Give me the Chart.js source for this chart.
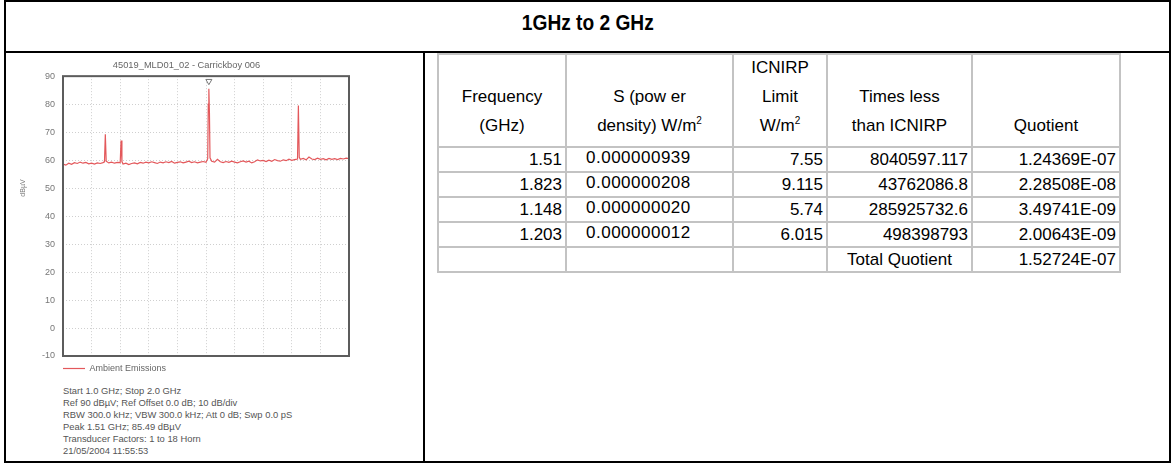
<!DOCTYPE html>
<html>
<head>
<meta charset="utf-8">
<script src="https://cdn.jsdelivr.net/npm/chart.js@4.4.1/dist/chart.umd.min.js"></script>
<style>
html,body{margin:0;padding:0;background:#fff;}
body{width:1171px;height:463px;position:relative;overflow:hidden;font-family:"Liberation Sans",Arial,sans-serif;color:#000;}
#frame{position:absolute;left:4px;top:0;width:1167px;height:463px;box-sizing:border-box;border:2px solid #000;}
#titleRow{position:absolute;left:0;top:0;width:1163px;height:49px;border-bottom:2px solid #000;text-align:center;}
#titleRow span{display:inline-block;margin-top:8px;font-weight:bold;font-size:22px;line-height:26px;transform:scaleX(0.87);transform-origin:center;}
#divider{position:absolute;left:417px;top:51px;width:2px;height:408px;background:#000;}
#chartBox{position:absolute;left:0;top:52px;width:361px;height:329px;}
#yTitle{position:absolute;left:2px;top:181px;width:30px;height:10px;font-size:7px;line-height:10px;color:#777;text-align:center;transform:rotate(-90deg);}
#footer{position:absolute;left:57px;top:383px;font-size:9.4px;line-height:12px;color:#555;white-space:nowrap;}
#tbl{position:absolute;left:431px;top:51px;display:grid;grid-template-columns:126px 165px 92px 143px 146px;grid-template-rows:91px 23px 23px 23px 23px 23px;gap:2px;padding:2px;background:#c3c3c3;font-size:17px;}
#tbl div{background:#fff;box-sizing:border-box;white-space:nowrap;}
.h{display:flex;flex-direction:column;justify-content:flex-end;align-items:center;line-height:29px;padding-bottom:6px;text-align:center;}
.n{text-align:right;padding-right:3px;line-height:23px;}
.s{text-align:left;padding-left:19px;line-height:19px;letter-spacing:0.5px;}
.c{text-align:center;line-height:23px;}
sup{font-size:10px;line-height:0;vertical-align:7px;}
</style>
</head>
<body>
<div id="frame">
  <div id="titleRow"><span>1GHz to 2 GHz</span></div>
  <div id="divider"></div>
  <div id="chartBox"><canvas id="c" width="361" height="329"></canvas></div>
  <div id="yTitle">dBµV</div>
  <div id="footer">
    Start 1.0 GHz; Stop 2.0 GHz<br>
    Ref 90 dBµV; Ref Offset 0.0 dB; 10 dB/div<br>
    RBW 300.0 kHz; VBW 300.0 kHz; Att 0 dB; Swp 0.0 pS<br>
    Peak 1.51 GHz; 85.49 dBµV<br>
    Transducer Factors: 1 to 18 Horn<br>
    21/05/2004 11:55:53
  </div>
  <div id="tbl"></div>
</div>
<script>
// ---- Spectrum trace ----
const traceFreqGHz = [
  1.00,1.01,1.02,1.03,1.04,1.05,1.06,1.07,1.08,1.09,1.10,1.11,1.12,1.13,1.14,1.145,1.148,1.151,
  1.16,1.17,1.18,1.19,1.20,1.203,1.206,1.21,1.22,1.23,1.24,1.25,1.26,1.27,1.28,1.29,1.30,
  1.31,1.32,1.33,1.34,1.35,1.36,1.37,1.38,1.39,1.40,1.41,1.42,1.43,1.44,1.45,1.46,1.47,1.48,1.49,1.50,
  1.506,1.508,1.510,1.512,1.514,1.52,1.53,1.54,1.55,1.56,1.57,1.58,1.59,1.60,1.61,1.62,1.63,1.64,1.65,
  1.66,1.67,1.68,1.69,1.70,1.71,1.72,1.73,1.74,1.75,1.76,1.77,1.78,1.79,1.80,1.81,1.82,1.823,1.826,
  1.83,1.84,1.85,1.86,1.87,1.88,1.89,1.90,1.91,1.92,1.93,1.94,1.95,1.96,1.97,1.98,1.99,2.00
];
const traceLevelDbuv = [
  58.6,58.2,58.9,58.5,59.1,58.8,59.3,58.9,59.2,58.7,58.9,58.6,59.0,58.8,59.1,59.4,69.2,59.6,
  59.0,59.3,58.9,59.2,59.1,67.0,59.5,58.6,58.9,58.4,58.8,59.0,58.7,59.2,58.9,59.3,59.0,
  59.4,59.1,58.8,59.3,59.0,59.4,59.1,59.5,58.9,59.2,59.4,59.0,59.3,59.6,59.1,59.4,59.0,59.3,59.5,59.2,
  60.5,80.0,85.5,77.0,60.8,59.6,59.3,60.3,59.4,59.1,59.5,59.2,59.6,59.3,59.0,59.4,59.7,59.3,59.6,
  59.0,59.4,60.1,59.7,59.9,59.5,60.0,59.6,60.2,59.8,59.6,60.1,59.8,60.3,59.9,60.2,60.4,79.5,61.0,
  60.3,60.6,60.1,61.1,60.4,60.2,60.7,60.3,60.5,60.1,60.6,60.3,60.5,60.2,60.6,60.4,60.7,60.5
];
const markerFreqGHz = [1.51];
const markerLevelDbuv = [88.2];
const seriesName = 'Ambient Emissions';
const chartTitle = '45019_MLD01_02 - Carrickboy 006';
const yMin = -10, yMax = 90, yStep = 10;
const xMin = 1.0, xMax = 2.0, xStep = 0.1;

// ---- Table ----
const tblFrequency = ['1.51','1.823','1.148','1.203'];
const tblPowerDensity = ['0.000000939','0.000000208','0.000000020','0.000000012'];
const tblLimit = ['7.55','9.115','5.74','6.015'];
const tblTimesLess = ['8040597.117','43762086.8','285925732.6','498398793'];
const tblQuotient = ['1.24369E-07','2.28508E-08','3.49741E-09','2.00643E-09'];
const totalLabel = 'Total Quotient';
const totalQuotient = '1.52724E-07';

// build table
const tbl = document.getElementById('tbl');
const headers = [
  'Frequency<br>(GHz)',
  'S (pow er<br>density) W/m<sup>2</sup>',
  'ICNIRP<br>Limit<br>W/m<sup>2</sup>',
  'Times less<br>than ICNIRP',
  'Quotient'
];
function cell(html, cls){const d=document.createElement('div');d.className=cls;d.innerHTML=html;tbl.appendChild(d);}
headers.forEach(h=>{
  const parts=h.split('<br>');
  cell(parts.map(p=>'<span>'+p+'</span>').join(''),'h');
});
for(let i=0;i<tblFrequency.length;i++){
  cell(tblFrequency[i],'n');
  cell(tblPowerDensity[i],'s');
  cell(tblLimit[i],'n');
  cell(tblTimesLess[i],'n');
  cell(tblQuotient[i],'n');
}
cell('','n');cell('','n');cell('','n');
cell(totalLabel,'c');cell(totalQuotient,'n');

// chart
const framePlugin = {
  id:'frame',
  afterDraw(chart){
    const {ctx, chartArea:{left,top,right,bottom}} = chart;
    ctx.save();
    ctx.strokeStyle='#5c5c5c';
    ctx.lineWidth=2;
    ctx.strokeRect(left,top,right-left,bottom-top);
    ctx.restore();
  }
};
const font = {family:'"Liberation Sans", Arial, sans-serif', size:9};
new Chart(document.getElementById('c'), {
  type:'line',
  data:{datasets:[
    {label:seriesName, data:traceFreqGHz.map((f,i)=>({x:f,y:traceLevelDbuv[i]})),
     borderColor:'#e3585b', borderWidth:1.2, pointRadius:0, tension:0, fill:false},
    {label:'marker', data:markerFreqGHz.map((f,i)=>({x:f,y:markerLevelDbuv[i]})),
     showLine:false, pointStyle:'triangle', rotation:180, pointRadius:3.5,
     borderColor:'#777', backgroundColor:'#fff', borderWidth:1}
  ]},
  options:{
    responsive:false, animation:false, devicePixelRatio:1,
    layout:{padding:{left:18,right:18,top:0,bottom:0}},
    plugins:{
      title:{display:true, text:chartTitle, color:'#666', font:{...font, size:9.3, weight:'normal'}, padding:{top:6,bottom:5}},
      legend:{display:true, position:'bottom', align:'start', fullSize:false,
        labels:{usePointStyle:true, pointStyle:'line', pointStyleWidth:22, padding:0, color:'#666', font:font,
          filter:(item)=>item.datasetIndex===0}},
      tooltip:{enabled:false}
    },
    scales:{
      x:{type:'linear', min:xMin, max:xMax,
         ticks:{display:false, stepSize:xStep},
         grid:{color:'#cfcfcf', drawTicks:false, lineWidth:1},
         border:{display:false, dash:[1,2]},
         afterFit(s){s.height=8;}},
      y:{min:yMin, max:yMax,
         ticks:{stepSize:yStep, color:'#777', font:font, padding:8},
         grid:{color:'#cfcfcf', drawTicks:false, lineWidth:1},
         border:{display:false, dash:[1,2]},
         afterFit(s){s.width=39;}}
    }
  },
  plugins:[framePlugin]
});
</script>
</body>
</html>
